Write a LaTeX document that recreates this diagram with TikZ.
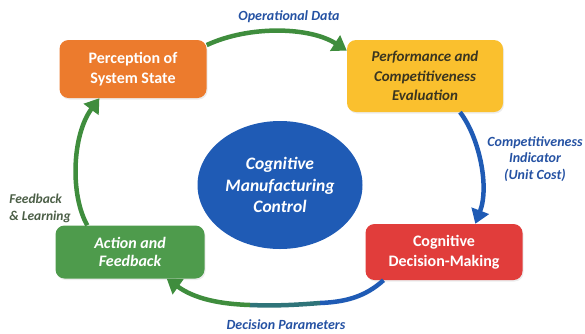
\documentclass[tikz,border=0pt]{standalone}
\usepackage{fontspec}
\setmainfont{Carlito}
\usetikzlibrary{arrows.meta}
\usetikzlibrary{shapes.geometric}
\usetikzlibrary{shadows}

\definecolor{cmorange}{HTML}{EC7B2D}
\definecolor{cmyellow}{HTML}{FAC02E}
\definecolor{cmblue}{HTML}{1F5BB5}
\definecolor{cmred}{HTML}{E13D3B}
\definecolor{cmgreen}{HTML}{4E9B4C}
\definecolor{cmarrow}{HTML}{3F8D3D}
\definecolor{cmlabel}{HTML}{2552A3}
\definecolor{cmdark}{HTML}{3A3520}
\definecolor{cmnote}{HTML}{4C5F47}

\tikzset{
  box/.style={rounded corners=9pt, align=center, inner sep=2pt,
    drop shadow={opacity=0.15, shadow xshift=1pt, shadow yshift=-1.5pt},
    font=\bfseries\fontsize{16}{19.5}\selectfont},
  flow/.style={line width=4.5pt, -{Triangle[length=14pt,width=18pt]}},
  tag/.style={align=center, text=cmlabel,
    font=\bfseries\itshape\fontsize{14}{16.5}\selectfont}
}

\begin{document}
\begin{tikzpicture}[x=1pt,y=-1pt]
  \useasboundingbox (0,0) rectangle (585,333);

  % the four stages
  \node[box, fill=cmorange, text=white, minimum width=147pt, minimum height=58pt]
    (percep) at (133,69) {Perception of\\System State};
  \node[box, fill=cmyellow, text=cmdark, minimum width=156pt, minimum height=72pt,
    font=\bfseries\itshape\fontsize{15}{19.5}\selectfont]
    (perform) at (425,76) {Performance and\\Competitiveness\\Evaluation};
  \node[box, fill=cmred, text=white, minimum width=157pt, minimum height=56pt,
    font=\bfseries\fontsize{16}{20}\selectfont]
    (decide) at (444,252) {Cognitive\\Decision-Making};
  \node[box, fill=cmgreen, text=white, minimum width=149pt, minimum height=53pt,
    font=\bfseries\itshape\fontsize{16}{18.5}\selectfont]
    (action) at (130,252) {Action and\\Feedback};

  % centre
  \node[ellipse, fill=cmblue, text=white, minimum width=165pt, minimum height=128pt,
    inner sep=0pt, align=center, font=\bfseries\itshape\fontsize{17.5}{21.5}\selectfont]
    (core) at (280,185) {Cognitive\\Manufacturing\\Control};

  % loop arrows
  \draw[flow, cmarrow] (percep.18) .. controls (250,25) and (310,27) .. (perform.162);
  \draw[flow, cmblue] (perform.-46) .. controls (478,135) and (490,185) .. (decide.42);
  % bottom one fades from blue to green
  \coordinate (dpa) at (320,303);
  \coordinate (dpb) at (250,305);
  \draw[line width=4.5pt, cmblue] (decide.205) .. controls (365,297) and (345,302) .. (dpa);
  \draw[line width=4.5pt, cmblue!50!cmarrow] (dpa) .. controls (295,305) and (275,306) .. (dpb);
  \draw[flow, cmarrow] (dpb) .. controls (220,304) and (195,299) .. (action.-36);
  \draw[flow, cmarrow] (action.148) .. controls (70,195) and (72,135) .. (percep.221);

  % arrow labels
  \node[tag] (opdata) at (289,17) {Operational Data};
  \node[tag] (indic) at (535,159) {Competitiveness\\Indicator\\(Unit Cost)};
  \node[tag] (params) at (286,325) {Decision Parameters};
  \node[tag, text=cmnote, align=left, font=\bfseries\itshape\fontsize{13.5}{17}\selectfont]
    (learn) at (40,208) {Feedback\\\& Learning};
\end{tikzpicture}
\end{document}
